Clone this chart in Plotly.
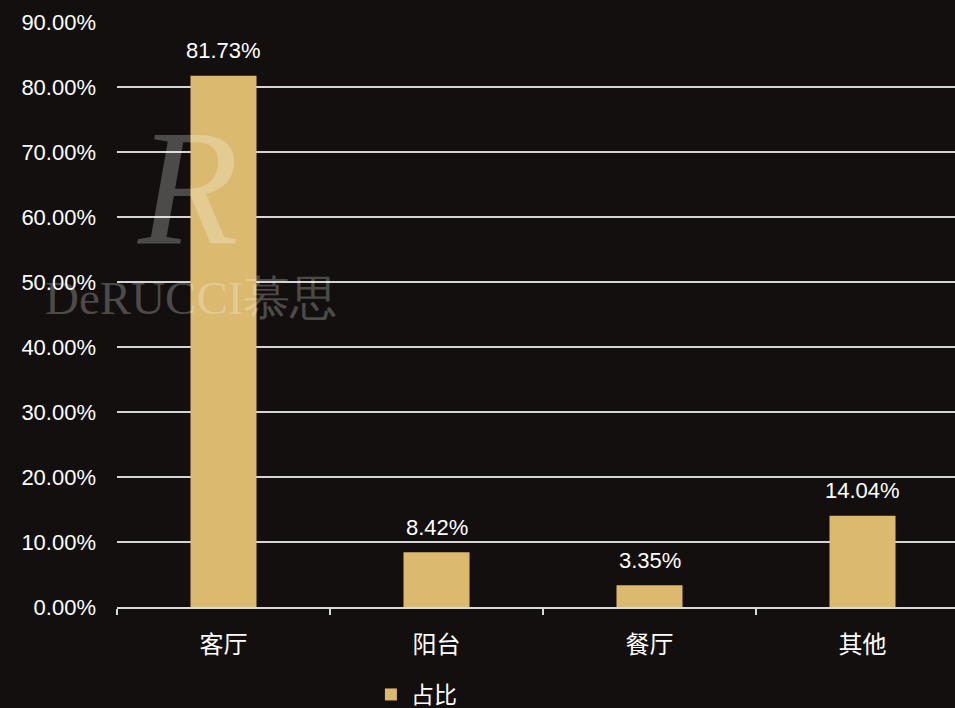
import plotly.graph_objects as go

categories = ["客厅", "阳台", "餐厅", "其他"]
values = [0.8173, 0.0842, 0.0335, 0.1404]
series_name = "占比"

BG = "#120f0e"
GOLD = "#dbb96f"
GRID = "#d4d4d4"
FONT_LAT = "Liberation Sans, Arial, sans-serif"
FONT_CJK = "Noto Sans CJK SC, Liberation Sans, sans-serif"

fig = go.Figure()
fig.add_trace(go.Bar(
    x=categories, y=values, name=series_name,
    marker=dict(color=GOLD, line=dict(width=0)),
    width=0.31,
    showlegend=True,
))

for c, v in zip(categories, values):
    fig.add_annotation(x=c, y=v, text=f"{v*100:.2f}%", showarrow=False,
                       yanchor="middle", yshift=25,
                       font=dict(family=FONT_LAT, size=22, color="white"))

# watermark
WM = "rgba(255,255,255,0.25)"
fig.add_annotation(xref="paper", yref="paper", x=(191 - 117) / 838, y=(607 - 298) / 585,
                   xanchor="center", yanchor="middle",
                   text="DeRUCCI慕思", showarrow=False,
                   font=dict(family="Liberation Serif, DejaVu Serif, serif", size=47, color=WM))
fig.add_annotation(xref="paper", yref="paper", x=(188 - 117) / 838, y=(607 - 188) / 585,
                   xanchor="center", yanchor="middle",
                   text="<i>R</i>", showarrow=False,
                   font=dict(family="Liberation Serif, DejaVu Serif, serif", size=165, color=WM))

fig.update_layout(
    width=955, height=708,
    paper_bgcolor=BG, plot_bgcolor=BG,
    margin=dict(l=117, r=0, t=22, b=101, autoexpand=False),
    xaxis=dict(
        range=[-0.5, -0.5 + (955 - 117) / 213],
        tickson="boundaries", ticks="outside", ticklen=6, tickcolor="#d9d9d9", tickwidth=1.5,
        showline=True, linecolor="#d9d9d9", linewidth=1.5,
        showgrid=False,
        tickfont=dict(family=FONT_CJK, size=24, color="white"),
        ticklabelstandoff=15,
    ),
    yaxis=dict(
        range=[0, 0.9], dtick=0.1, tickformat=".2%",
        showgrid=True, gridcolor=GRID, gridwidth=1.5,
        zeroline=False, showline=False,
        tickfont=dict(family=FONT_LAT, size=22, color="white"),
        ticks="", ticklabelstandoff=20,
    ),
    legend=dict(orientation="h", x=0.303, xanchor="left", y=-109 / 585, yanchor="bottom",
                font=dict(family=FONT_CJK, size=23, color="white"),
                bgcolor="rgba(0,0,0,0)", itemwidth=30),
    showlegend=True,
)

fig.write_html("out.html", config={"displayModeBar": False}, post_script=(
    "document.body.style.margin='0';document.body.style.padding='0';"
    "document.body.style.overflow='hidden';document.body.style.background='#120f0e';"))
